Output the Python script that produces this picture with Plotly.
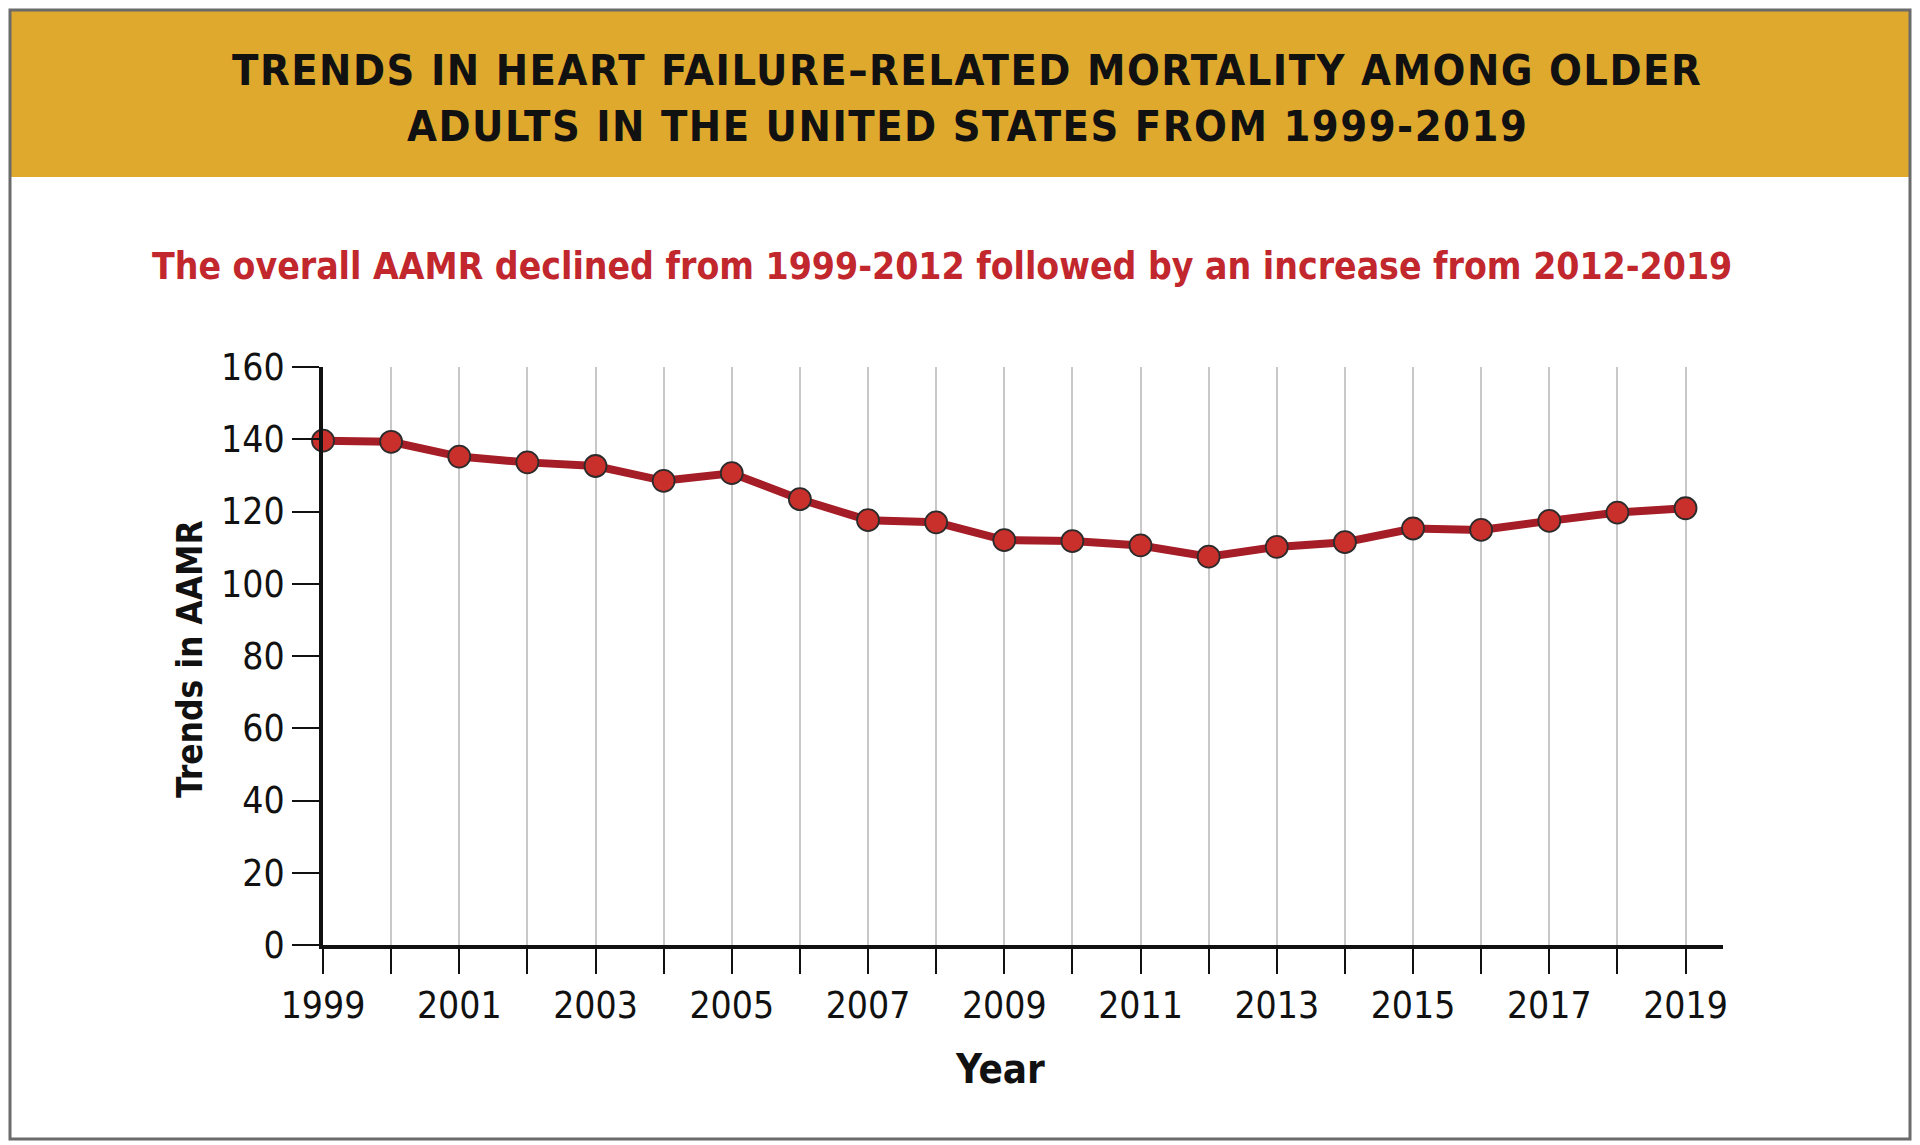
import plotly.graph_objects as go

years = list(range(1999, 2020))
aamr = [139.6, 139.3, 135.2, 133.6, 132.6, 128.5, 130.6, 123.4, 117.6, 117.0,
        112.1, 111.8, 110.6, 107.5, 110.2, 111.5, 115.3, 114.9, 117.4, 119.7, 120.9]
y_ticks = [0, 20, 40, 60, 80, 100, 120, 140, 160]
x_ticklabels = [str(y) if (y - 1999) % 2 == 0 else "" for y in years]

title_line1 = "TRENDS IN HEART FAILURE\u2013RELATED MORTALITY AMONG OLDER"
title_line2 = "ADULTS IN THE UNITED STATES FROM 1999-2019"
subtitle = "The overall AAMR declined from 1999-2012 followed by an increase from 2012-2019"

FONT = "Liberation Sans Narrow, DejaVu Sans Condensed, Roboto Condensed, Arial Narrow, sans-serif"

# page offset (default body margin of the html page)
OFF = 8
W, H = 1920 - OFF, 1145 - OFF


def px(x):
    return (x - OFF) / W


def py(y):
    return 1 - (y - OFF) / H


fig = go.Figure()
fig.add_trace(go.Scatter(
    x=years, y=aamr, mode="lines+markers",
    line=dict(color="#A51D26", width=8),
    marker=dict(size=22, color="#C9302B", line=dict(color="#2b2b2b", width=1.8)),
    cliponaxis=False, hoverinfo="x+y", showlegend=False,
))

fig.update_layout(
    width=W, height=H,
    margin=dict(l=0, r=0, t=0, b=0, autoexpand=False),
    paper_bgcolor="white", plot_bgcolor="white",
    font=dict(family=FONT, color="#111111"),
    xaxis=dict(
        domain=[px(323), px(1723)], automargin=False,
        range=[1999, 2019.55], tickvals=years, ticktext=x_ticklabels,
        showgrid=True, gridcolor="#C8C8C8", gridwidth=2,
        showline=True, linecolor="#111111", linewidth=4,
        ticks="outside", ticklen=25, tickwidth=2, tickcolor="#111111",
        tickfont=dict(size=37, family=FONT, color="#111111"),
        zeroline=False, fixedrange=True,
    ),
    yaxis=dict(
        domain=[py(945), py(367)], automargin=False,
        range=[0, 160], tickvals=y_ticks,
        showgrid=False, showline=True, linecolor="#111111", linewidth=4,
        ticks="outside", ticklen=27, tickwidth=2, tickcolor="#111111",
        tickfont=dict(size=37, family=FONT, color="#111111"),
        zeroline=False, fixedrange=True,
    ),
    shapes=[
        dict(type="rect", xref="paper", yref="paper",
             x0=px(10), x1=px(1910), y0=py(177), y1=py(10),
             fillcolor="#DFA92E", line=dict(width=0), layer="below"),
        dict(type="rect", xref="paper", yref="paper",
             x0=px(10), x1=px(1910), y0=py(1139), y1=py(10),
             fillcolor="rgba(0,0,0,0)", line=dict(color="#6b6b6b", width=3)),
    ],
    annotations=[
        dict(text='<span style="letter-spacing:1.5px">' + title_line1 + '</span>',
             x=px(967), y=py(70), xref="paper", yref="paper",
             showarrow=False, xanchor="center", yanchor="middle",
             font=dict(size=43, family=FONT, color="#111111", weight="bold")),
        dict(text='<span style="letter-spacing:1.5px">' + title_line2 + '</span>',
             x=px(967), y=py(126), xref="paper", yref="paper",
             showarrow=False, xanchor="center", yanchor="middle",
             font=dict(size=43, family=FONT, color="#111111", weight="bold")),
        dict(text=subtitle,
             x=px(942), y=py(266), xref="paper", yref="paper",
             showarrow=False, xanchor="center", yanchor="middle",
             font=dict(size=37, family=FONT, color="#C1272D", weight="bold")),
        dict(text="Trends in AAMR",
             x=px(190), y=py(659), xref="paper", yref="paper", textangle=-90,
             showarrow=False, xanchor="center", yanchor="middle",
             font=dict(size=35, family=FONT, color="#111111", weight="bold")),
        dict(text="Year",
             x=px(1000), y=py(1069), xref="paper", yref="paper",
             showarrow=False, xanchor="center", yanchor="middle",
             font=dict(size=40, family=FONT, color="#111111", weight="bold")),
    ],
)

fig.write_html("out.html")
